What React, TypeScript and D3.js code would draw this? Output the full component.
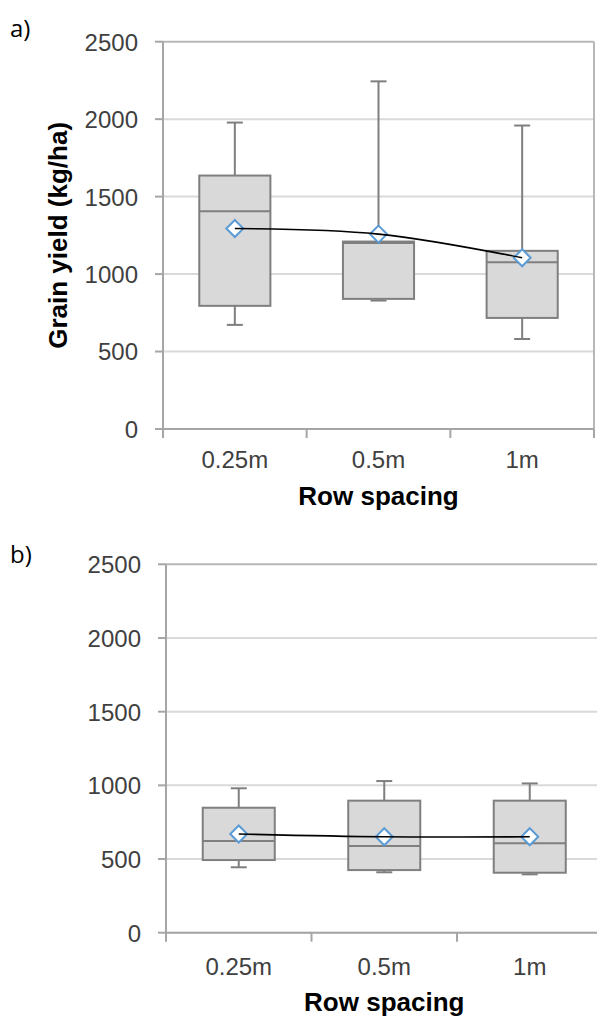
import React from "react";
import * as d3 from "d3";

// Row spacing treatments and shared y ticks
const categories = ["0.25m", "0.5m", "1m"];
const yTicks = [0, 500, 1000, 1500, 2000, 2500];

// Panel a) grain yield (kg/ha)
const aMin = [672, 829, 581];
const aQ1 = [795, 840, 717];
const aMedian = [1406, 1200, 1077];
const aQ3 = [1636, 1210, 1150];
const aMax = [1978, 2244, 1959];
const aMean = [1294, 1258, 1105];

// Panel b) grain yield (kg/ha)
const bMin = [444, 410, 396];
const bQ1 = [493, 425, 407];
const bMedian = [622, 588, 607];
const bQ3 = [848, 896, 896];
const bMax = [980, 1029, 1013];
const bMean = [670, 651, 651];

type Stats = {
  min: number[];
  q1: number[];
  median: number[];
  q3: number[];
  max: number[];
  mean: number[];
};

type Layout = {
  left: number;
  right: number;
  top: number;
  bottom: number;
  tickLabelRight: number;
  catBaseline: number;
  titleBaseline: number;
  yTitleX: number | null;
  label: string;
  labelY: number;
  rightBorder: boolean;
};

const AXIS = "#a6a6a6";
const GRID = "#d9d9d9";
const BOX_FILL = "#d9d9d9";
const BOX_STROKE = "#7f7f7f";
const MEAN_STROKE = "#5b9bd5";
const TEXT = "#404040";
const FONT = "'Liberation Sans', Arial, sans-serif";

function BoxPanel({ s, L }: { s: Stats; L: Layout }) {
  const x = d3.scaleBand<string>().domain(categories).range([L.left, L.right]).padding(0);
  const y = d3.scaleLinear().domain([0, 2500]).range([L.bottom, L.top]);
  const bw = x.bandwidth() * 0.495;
  const cap = 16;
  const centers = categories.map((c) => (x(c) as number) + x.bandwidth() / 2);

  const meanLine = d3
    .line<number>()
    .x((_, i) => centers[i])
    .y((d) => y(d))
    .curve(d3.curveCatmullRom)(s.mean);

  const boundaries = [...categories.map((c) => x(c) as number), L.right];
  const titleX = (L.left + L.right) / 2;

  return (
    <g>
      <text x={10} y={L.labelY} fontFamily="'Open Sans', 'Noto Sans', sans-serif" fontSize={24} fill="#000">
        {L.label}
      </text>

      {/* gridlines */}
      {yTicks.map((t) => (
        <line key={`g${t}`} x1={L.left} x2={L.right} y1={y(t)} y2={y(t)} stroke={t === 2500 ? "#b8b8b8" : GRID} strokeWidth={2} />
      ))}
      {L.rightBorder && <line x1={L.right} x2={L.right} y1={y(2500)} y2={y(0)} stroke="#b8b8b8" strokeWidth={2} />}

      {/* y axis */}
      <line x1={L.left} x2={L.left} y1={L.top} y2={L.bottom + 8} stroke={AXIS} strokeWidth={2} />
      {yTicks.map((t) => (
        <g key={`t${t}`}>
          <line x1={L.left - 8} x2={L.left} y1={y(t)} y2={y(t)} stroke={AXIS} strokeWidth={2} />
          <text x={L.tickLabelRight} y={y(t)} dy="0.37em" textAnchor="end" fontFamily={FONT} fontSize={24} fill={TEXT}>
            {t}
          </text>
        </g>
      ))}

      {/* x axis */}
      <line x1={L.left} x2={L.right} y1={L.bottom} y2={L.bottom} stroke={AXIS} strokeWidth={2} />
      {boundaries.map((bx, i) => (
        <line key={`xb${i}`} x1={bx} x2={bx} y1={L.bottom} y2={L.bottom + 9} stroke={AXIS} strokeWidth={2} />
      ))}
      {categories.map((c, i) => (
        <text key={`xl${c}`} x={centers[i]} y={L.catBaseline} textAnchor="middle" fontFamily={FONT} fontSize={24} fill={TEXT}>
          {c}
        </text>
      ))}
      <text x={titleX} y={L.titleBaseline} textAnchor="middle" fontFamily={FONT} fontWeight="bold" fontSize={26} fill="#000">
        Row spacing
      </text>
      {L.yTitleX !== null && (
        <text
          transform={`translate(${L.yTitleX},${(L.top + L.bottom) / 2}) rotate(-90)`}
          dy="0.35em"
          textAnchor="middle"
          fontFamily={FONT}
          fontWeight="bold"
          fontSize={26}
          fill="#000"
        >
          Grain yield (kg/ha)
        </text>
      )}

      {/* boxes and whiskers */}
      {categories.map((c, i) => {
        const cx = centers[i];
        return (
          <g key={`b${c}`}>
            <line x1={cx} x2={cx} y1={y(s.max[i])} y2={y(s.q3[i])} stroke={BOX_STROKE} strokeWidth={2} />
            <line x1={cx - cap / 2} x2={cx + cap / 2} y1={y(s.max[i])} y2={y(s.max[i])} stroke={BOX_STROKE} strokeWidth={2} />
            <line x1={cx} x2={cx} y1={y(s.q1[i])} y2={y(s.min[i])} stroke={BOX_STROKE} strokeWidth={2} />
            <line x1={cx - cap / 2} x2={cx + cap / 2} y1={y(s.min[i])} y2={y(s.min[i])} stroke={BOX_STROKE} strokeWidth={2} />
            <rect
              x={cx - bw / 2}
              y={y(s.q3[i])}
              width={bw}
              height={y(s.q1[i]) - y(s.q3[i])}
              fill={BOX_FILL}
              stroke={BOX_STROKE}
              strokeWidth={2}
            />
            <line x1={cx - bw / 2} x2={cx + bw / 2} y1={y(s.median[i])} y2={y(s.median[i])} stroke={BOX_STROKE} strokeWidth={2} />
          </g>
        );
      })}

      {/* mean markers */}
      {categories.map((c, i) => {
        const cx = centers[i];
        const cy = y(s.mean[i]);
        const r = 8.5;
        return (
          <path
            key={`m${c}`}
            d={`M${cx},${cy - r}L${cx + r},${cy}L${cx},${cy + r}L${cx - r},${cy}Z`}
            fill="#fff"
            stroke={MEAN_STROKE}
            strokeWidth={2}
          />
        );
      })}
      <path d={meanLine ?? ""} fill="none" stroke="#000" strokeWidth={1.6} />
    </g>
  );
}

const layoutA: Layout = {
  left: 163,
  right: 594,
  top: 41.7,
  bottom: 429,
  tickLabelRight: 138,
  catBaseline: 468,
  titleBaseline: 505,
  yTitleX: 58,
  label: "a)",
  labelY: 36.5,
  rightBorder: true,
};

const layoutB: Layout = {
  left: 166,
  right: 602.5,
  top: 564.3,
  bottom: 932.7,
  tickLabelRight: 141,
  catBaseline: 975,
  titleBaseline: 1011,
  yTitleX: null,
  label: "b)",
  labelY: 563,
  rightBorder: false,
};

export default function App() {
  const statsA: Stats = { min: aMin, q1: aQ1, median: aMedian, q3: aQ3, max: aMax, mean: aMean };
  const statsB: Stats = { min: bMin, q1: bQ1, median: bMedian, q3: bQ3, max: bMax, mean: bMean };
  return (
    <div style={{ position: "absolute", left: 0, top: 0 }}>
      <svg width={597} height={1017} style={{ display: "block", background: "#fff" }}>
        <BoxPanel s={statsA} L={layoutA} />
        <BoxPanel s={statsB} L={layoutB} />
      </svg>
    </div>
  );
}
